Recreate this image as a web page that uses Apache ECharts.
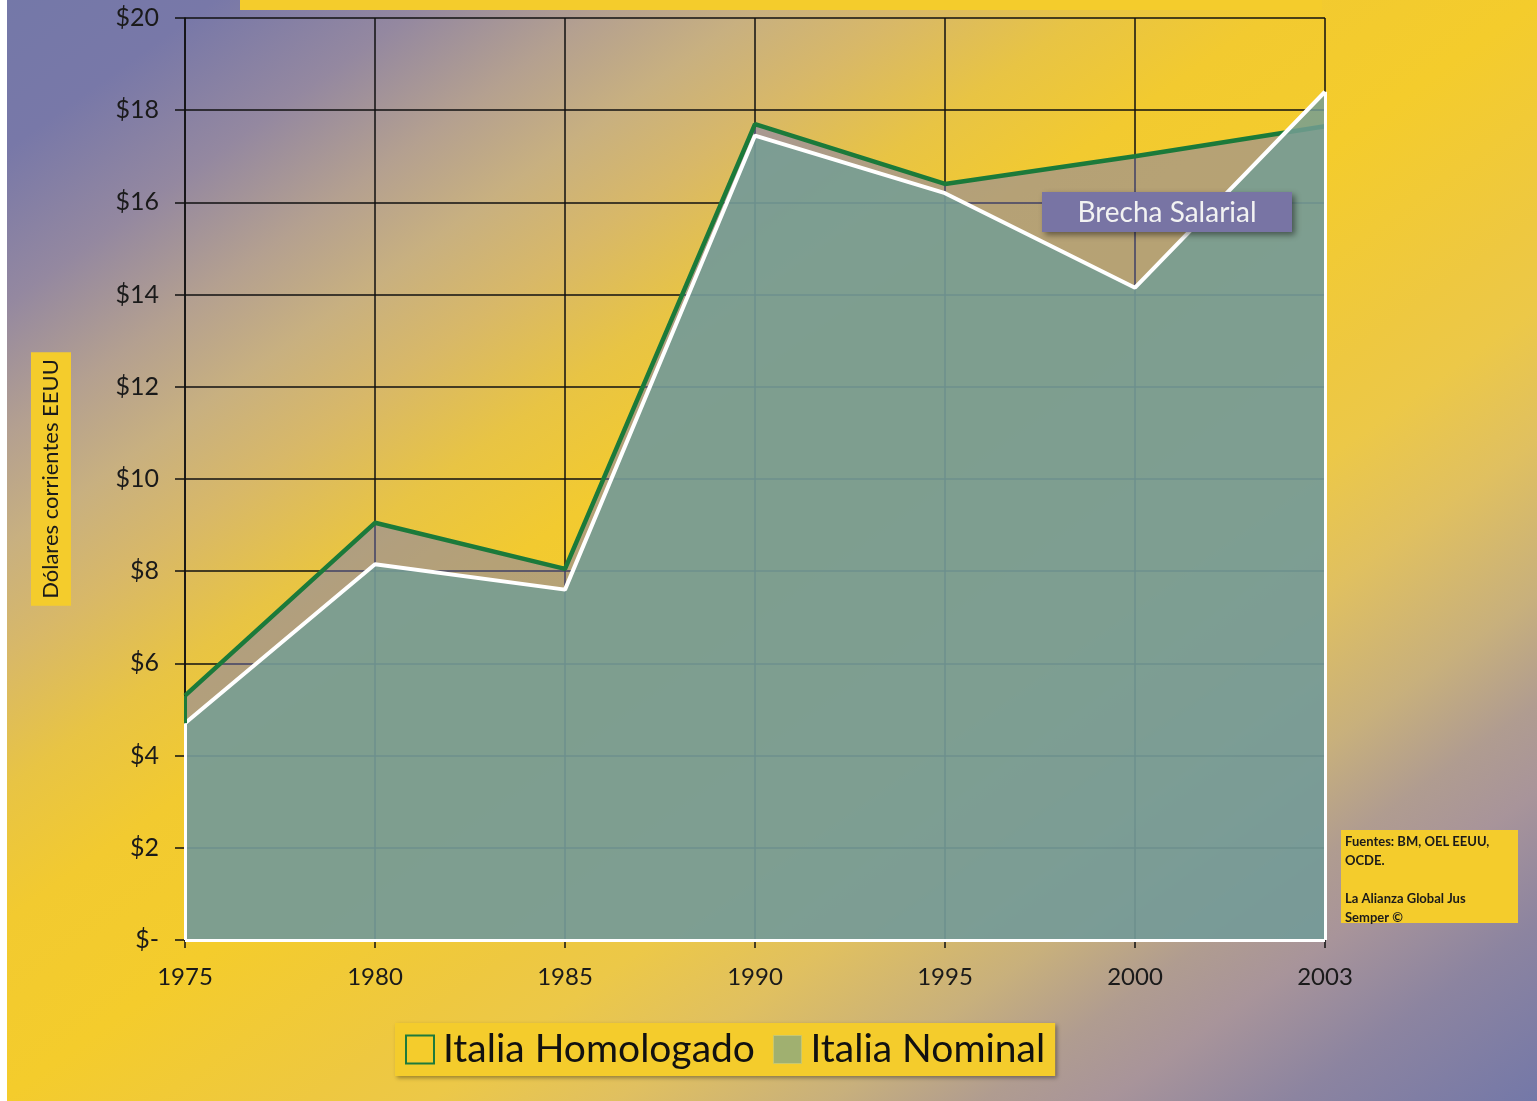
<!DOCTYPE html>
<html>
<head>
<meta charset="utf-8">
<script src="https://cdn.jsdelivr.net/npm/echarts@6/dist/echarts.min.js"></script>
<style>
  html, body { margin: 0; padding: 0; background: #fff; }
  #chart { width: 1537px; height: 1101px; }
</style>
</head>
<body>
<div id="chart"></div>
<script>
// datos
const years = ['1975', '1980', '1985', '1990', '1995', '2000', '2003'];
const homologado = [5.3, 9.05, 8.05, 17.7, 16.4, 17.0, 17.65];
const nominal = [4.7, 8.15, 7.6, 17.45, 16.2, 14.15, 18.4];

const FONT = 'Lato, "DejaVu Sans", sans-serif';
const YELLOW = '#f4cc2c';
const last = years.length - 1;

const chart = echarts.init(document.getElementById('chart'));

const option = {
  // fondo con degradado diagonal morado / amarillo / morado
  // (vector perpendicular a la diagonal sup.der - inf.izq)
  backgroundColor: {
    type: 'linear', x: 0, y: 0, x2: 1042, y2: 1455, global: true,
    colorStops: [
      { offset: 0, color: '#7478a8' },
      { offset: 0.07, color: '#7878a8' },
      { offset: 0.14, color: '#9488a0' },
      { offset: 0.2, color: '#b4a090' },
      { offset: 0.25, color: '#c8b080' },
      { offset: 0.3, color: '#d8b868' },
      { offset: 0.36, color: '#e8c444' },
      { offset: 0.42, color: '#f2ca30' },
      { offset: 0.5, color: '#f4cc2c' },
      { offset: 0.6, color: '#eec840' },
      { offset: 0.64, color: '#ecc848' },
      { offset: 0.7, color: '#e0c060' },
      { offset: 0.77, color: '#c8b07c' },
      { offset: 0.82, color: '#b09c90' },
      { offset: 0.86, color: '#a8949a' },
      { offset: 0.92, color: '#8c84a0' },
      { offset: 1, color: '#7478a8' }
    ]
  },
  textStyle: { fontFamily: FONT },
  grid: { left: 185, right: 212, top: 18, bottom: 161 },
  legend: {
    left: 395, top: 1023,
    padding: [7, 10, 7, 10],
    itemGap: 18,
    itemWidth: 28, itemHeight: 28,
    backgroundColor: YELLOW,
    shadowBlur: 4, shadowColor: 'rgba(0,0,0,0.35)', shadowOffsetX: 2, shadowOffsetY: 2,
    textStyle: { fontSize: 39, color: '#111', fontFamily: FONT, padding: [0, 0, 0, 4] },
    data: [
      { name: 'Italia Homologado', icon: 'rect',
        itemStyle: { color: 'rgba(0,0,0,0)', borderColor: '#1e7a3c', borderWidth: 2 } },
      { name: 'Italia Nominal', icon: 'rect',
        itemStyle: { color: '#a0b070', borderColor: '#c8c870', borderWidth: 1 } }
    ]
  },
  xAxis: {
    type: 'category',
    data: years,
    boundaryGap: false,
    axisLine: { lineStyle: { color: '#111', width: 1.5 } },
    axisTick: { show: true, length: 8, alignWithLabel: true, lineStyle: { color: '#111', width: 1.5 } },
    axisLabel: { fontSize: 24, color: '#1a1a1a', margin: 25, fontFamily: FONT },
    splitLine: { show: true, lineStyle: { color: '#111', width: 1.5 } }
  },
  yAxis: {
    type: 'value',
    min: 0, max: 20, interval: 2,
    name: 'Dólares corrientes EEUU',
    nameLocation: 'middle',
    nameRotate: 90,
    nameGap: 114,
    nameTextStyle: {
      fontSize: 22, color: '#1a1a1a', fontFamily: FONT,
      backgroundColor: YELLOW, padding: [9, 7, 9, 7]
    },
    axisLine: { show: true, lineStyle: { color: '#111', width: 1.5 } },
    axisTick: { show: true, length: 10, lineStyle: { color: '#111', width: 1.5 } },
    axisLabel: {
      fontSize: 25, color: '#1a1a1a', margin: 26, fontFamily: FONT,
      formatter: v => (v === 0 ? '$-' : '$' + v)
    },
    splitLine: { show: true, lineStyle: { color: '#111', width: 1.5 } }
  },
  series: [
    {
      name: 'Italia Homologado',
      type: 'line',
      data: homologado,
      symbol: 'none',
      z: 2,
      lineStyle: { color: '#1b7a3a', width: 4.5 },
      itemStyle: { color: '#1b7a3a' },
      areaStyle: { color: 'rgba(115,118,195,0.48)', opacity: 1, origin: 'start' },
      markLine: {
        silent: true, symbol: 'none', label: { show: false },
        lineStyle: { color: '#1b7a3a', width: 3, type: 'solid' },
        data: [[{ coord: [years[0], homologado[0]] }, { coord: [years[0], nominal[0]] }]]
      }
    },
    {
      name: 'Italia Nominal',
      type: 'line',
      data: nominal,
      symbol: 'none',
      z: 3,
      lineStyle: { color: '#ffffff', width: 4 },
      itemStyle: { color: '#a0b070' },
      areaStyle: { color: 'rgba(116,157,148,0.85)', opacity: 1, origin: 'start' },
      markLine: {
        silent: true, symbol: 'none', label: { show: false },
        lineStyle: { color: '#ffffff', width: 3, type: 'solid' },
        data: [
          [{ coord: [years[0], nominal[0]] }, { coord: [years[0], 0] }],
          [{ coord: [years[last], nominal[last]] }, { coord: [years[last], 0] }],
          [{ coord: [years[0], 0] }, { coord: [years[last], 0] }]
        ]
      }
    }
  ],
  graphic: [
    { type: 'rect', left: 0, top: 0, shape: { width: 7, height: 1101 }, style: { fill: '#ffffff' }, z: 100 },
    { type: 'rect', left: 240, top: 0, shape: { width: 1082, height: 10 }, style: { fill: YELLOW }, z: 100 },
    // caja "Brecha Salarial"
    {
      type: 'rect', z: 100,
      shape: { x: 1042, y: 192, width: 250, height: 40 },
      style: { fill: '#7874a4', shadowBlur: 6, shadowColor: 'rgba(0,0,0,0.45)', shadowOffsetX: 3, shadowOffsetY: 3 }
    },
    {
      type: 'text', z: 101,
      style: {
        x: 1167, y: 213, text: 'Brecha Salarial', fill: '#f2f2f2',
        font: '28px ' + FONT, textAlign: 'center', textVerticalAlign: 'middle'
      }
    },
    // fuentes
    { type: 'rect', z: 100, shape: { x: 1341, y: 830, width: 177, height: 93 }, style: { fill: YELLOW } },
    {
      type: 'text', z: 101,
      style: {
        x: 1345, y: 832,
        text: 'Fuentes: BM, OEL EEUU,\nOCDE.\n\nLa Alianza Global Jus\nSemper ©',
        fill: '#1a1a1a', font: 'bold 13px ' + FONT, lineHeight: 19
      }
    }
  ]
};

chart.setOption(option);
</script>
</body>
</html>
